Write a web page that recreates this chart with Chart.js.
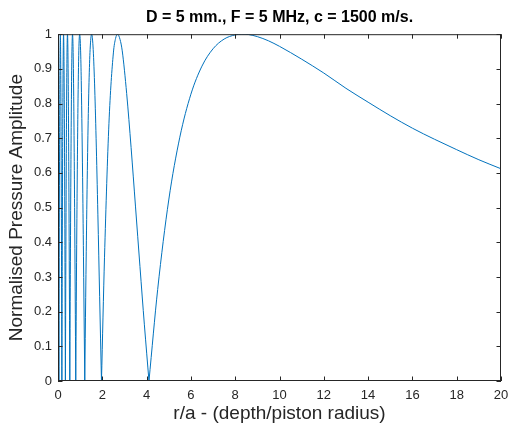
<!DOCTYPE html>
<html>
<head>
<meta charset="utf-8">
<script src="https://cdn.jsdelivr.net/npm/chart.js@4.4.0/dist/chart.umd.min.js"></script>
<style>
  html, body { margin: 0; padding: 0; background: #fff; }
  #wrap { width: 509px; height: 430px; }
</style>
</head>
<body>
<div id="wrap"><canvas id="myChart" width="509" height="430"></canvas></div>
<script>
// on-axis pressure (r/a, normalised amplitude)
const depth = [
  0, 0.02, 0.041, 0.07, 0.106, 0.14, 0.175,
  0.21, 0.251, 0.29, 0.334,
  0.37, 0.40, 0.428, 0.46, 0.50, 0.533,
  0.58, 0.62, 0.656, 0.70, 0.75, 0.802,
  0.85, 0.90, 0.94, 0.98, 1.02, 1.05, 1.12, 1.16, 1.209,
  1.25, 1.30, 1.35, 1.40, 1.45, 1.517, 1.58, 1.65, 1.72, 1.80, 1.88, 1.963,
  2.1, 2.3, 2.5, 2.6, 2.688, 2.8, 2.9, 3.1, 3.3, 3.5, 3.7, 3.9, 4.107,
  4.5, 5, 5.5, 6, 6.5, 7, 7.5, 8, 8.3, 8.6, 9, 9.5, 10, 11, 12, 13, 14, 15, 16, 17, 18, 19, 20
];
const amplitude = [
  0.866, 0.498, 0, 0.663, 1, 0.704, 0,
  0.673, 1, 0.729, 0,
  0.583, 0.903, 1, 0.874, 0.454, 0,
  0.588, 0.908, 1, 0.874, 0.5, 0,
  0.444, 0.789, 0.952, 1, 0.954, 0.866, 0.54, 0.298, 0,
  0.24, 0.495, 0.707, 0.861, 0.956, 1, 0.966, 0.859, 0.70, 0.481, 0.243, 0,
  0.357, 0.743, 0.946, 0.988, 1, 0.985, 0.952, 0.829, 0.673, 0.502, 0.330, 0.162, 0,
  0.264, 0.522, 0.703, 0.827, 0.908, 0.958, 0.986, 0.998, 1, 0.999, 0.993, 0.981, 0.965, 0.928, 0.888, 0.844, 0.804, 0.765, 0.729, 0.697, 0.667, 0.638, 0.612
];
const xTicks = [0, 2, 4, 6, 8, 10, 12, 14, 16, 18, 20];
const yTicks = [0, 0.1, 0.2, 0.3, 0.4, 0.5, 0.6, 0.7, 0.8, 0.9, 1];

const axisColor = '#262626';
const fontFam = '"Liberation Sans", Arial, sans-serif';

// split the curve into lobes at the zeros so each lobe can be smoothed on its own
const lobes = [];
let cur = [];
depth.forEach((d, i) => {
  cur.push({ x: d, y: amplitude[i] });
  if (amplitude[i] === 0 && cur.length > 1) {
    lobes.push(cur);
    cur = [{ x: d, y: 0 }];
  }
});
if (cur.length > 1) lobes.push(cur);

// matlab-style box + inward ticks
const boxTicks = {
  id: 'boxTicks',
  afterDraw(chart) {
    const { ctx, chartArea: a, scales } = chart;
    ctx.save();
    ctx.strokeStyle = axisColor;
    ctx.lineWidth = 1;
    ctx.beginPath();
    ctx.moveTo(a.left, a.top + 0.5); ctx.lineTo(a.right, a.top + 0.5);
    ctx.moveTo(a.right - 0.5, a.top); ctx.lineTo(a.right - 0.5, a.bottom);
    ctx.moveTo(a.left + 0.5, a.top); ctx.lineTo(a.left + 0.5, a.bottom);
    ctx.moveTo(a.left, a.bottom - 0.5); ctx.lineTo(a.right, a.bottom - 0.5);
    const len = 4.5;
    xTicks.forEach(v => {
      const x = Math.round(scales.x.getPixelForValue(v)) + 0.5;
      ctx.moveTo(x, a.bottom); ctx.lineTo(x, a.bottom - len);
      ctx.moveTo(x, a.top); ctx.lineTo(x, a.top + len);
    });
    yTicks.forEach(v => {
      const y = Math.round(scales.y.getPixelForValue(v)) + 0.5;
      ctx.moveTo(a.left, y); ctx.lineTo(a.left + len, y);
      ctx.moveTo(a.right, y); ctx.lineTo(a.right - len, y);
    });
    ctx.stroke();
    ctx.restore();
  }
};

const context = document.getElementById('myChart').getContext('2d');
const myChart = new Chart(context, {
  type: 'scatter',
  data: {
    datasets: lobes.map(pts => ({
      data: pts,
      showLine: true,
      borderColor: '#0072BD',
      borderWidth: 1,
      pointRadius: 0,
      cubicInterpolationMode: 'monotone',
    }))
  },
  options: {
    responsive: false,
    animation: false,
    layout: { padding: { left: 0, right: 8, top: 8, bottom: 0 } },
    plugins: {
      legend: { display: false },
      tooltip: { enabled: false },
      title: {
        display: true,
        fullSize: false,
        text: 'D = 5 mm., F = 5 MHz, c = 1500 m/s.',
        color: '#000',
        font: { family: fontFam, size: 16, weight: 'bold' },
        padding: { top: 0, bottom: 7 }
      }
    },
    scales: {
      x: {
        type: 'linear',
        min: 0, max: 20,
        afterBuildTicks: s => { s.ticks = xTicks.map(v => ({ value: v })); },
        ticks: { color: axisColor, font: { family: fontFam, size: 13 }, padding: 7, maxRotation: 0,
                 callback: v => String(v) },
        grid: { display: false, drawTicks: false },
        border: { display: false },
        title: {
          display: true,
          text: 'r/a - (depth/piston radius)',
          color: axisColor,
          font: { family: fontFam, size: 19 },
          padding: { top: 2, bottom: 5 }
        },
        afterFit: s => { s.height = 49; s.paddingLeft = 0; s.paddingRight = 0; }
      },
      y: {
        type: 'linear',
        min: 0, max: 1,
        afterBuildTicks: s => { s.ticks = yTicks.map(v => ({ value: v })); },
        ticks: { color: axisColor, font: { family: fontFam, size: 13 }, padding: 6,
                 callback: v => String(v) },
        grid: { display: false, drawTicks: false },
        border: { display: false },
        title: {
          display: true,
          text: 'Normalised Pressure Amplitude',
          color: axisColor,
          font: { family: fontFam, size: 19 },
          padding: { top: 5, bottom: 2 }
        },
        afterFit: s => { s.width = 58; s.paddingTop = 0; s.paddingBottom = 0; }
      }
    }
  },
  plugins: [boxTicks]
});
</script>
</body>
</html>
